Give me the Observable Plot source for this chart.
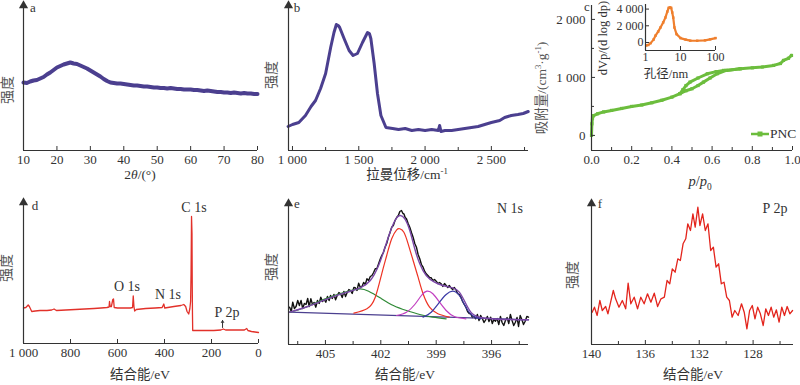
<!DOCTYPE html>
<html><head><meta charset="utf-8">
<script src="https://cdn.jsdelivr.net/npm/d3@7"></script>
<script src="https://cdn.jsdelivr.net/npm/@observablehq/plot@0.6"></script>
<style>
body{margin:0;background:#fff;}
#root{position:relative;width:800px;height:385px;overflow:hidden;font-family:"Liberation Serif","Noto Sans CJK SC",serif;color:#333;}
#root svg{position:absolute;overflow:visible;}
.t{position:absolute;white-space:nowrap;line-height:1;}
.t sup,.t sub{font-size:65%;line-height:0;}
</style></head>
<body><div id="root"></div>
<script>
// ---------- data ----------
// a: XRD
const aTheta = [10,11,12,13,14,15,16,17,18,19,20,21,22,23,24,25,26,27,28,29,30,31,32,33,34,35,36,37,38,39,40,41,42,43,44,45,46,47,48,49,50,51,52,53,54,55,56,57,58,59,60,61,62,63,64,65,66,67,68,69,70,71,72,73,74,75,76,77,78,79,80];
const aInt = [68,67.5,69,70,70.5,72,73.5,76,78,80.5,83,84.5,86,87,88,87,86.5,85,83.5,82,80,78,76,74,71.5,69.5,68,67.5,67,67,66.5,66,65.5,65,65,64.5,64,64,63.5,63,63,62.5,62.5,62,62.5,62,61.5,61.5,61,61,61,60.5,60.5,60,59.5,60,59.5,59,58.5,58.5,58,58,57.5,58,57.5,57,57.5,57,57,56.5,56.5];
// b: Raman
const bShift = [967,1000,1048,1098,1140,1174,1212,1250,1288,1313,1331,1345,1356,1389,1427,1457,1490,1528,1566,1580,1591,1616,1641,1667,1705,1755,1800,1850,1900,1950,2000,2050,2100,2110,2120,2150,2200,2250,2300,2350,2400,2450,2500,2563,2600,2650,2700,2740,2778];
const bInt = [24,26,28,35,44,50,62,77,103,118,126,125,123,112,100,95,97,108,118,117,112,87,57,35,23,22,21,22,20,21,20,21,20,25,19,20,20,21,22,23,24,26,28,30,33,35,36,37,39];
// c: N2 isotherm
const cAdsP = [0.0,0.002,0.005,0.01,0.03,0.06,0.1,0.15,0.2,0.25,0.3,0.35,0.4,0.44,0.47,0.5,0.53,0.557,0.59,0.625,0.67,0.74,0.8,0.85,0.906,0.94,0.955,0.98,0.995];
const cAdsV = [0,200,300,340,373,405,431,465,500,525,563,607,661,720,770,805,860,919,990,1063,1121,1150,1165,1180,1207,1240,1293,1330,1379];
const cDesP = [0.74,0.67,0.657,0.62,0.576,0.53,0.49,0.47,0.455,0.44];
const cDesV = [1150,1121,1121,1100,1063,990,919,860,790,720];
// c inset: pore size distribution
const cPore = [1.05,1.2,1.4,1.7,1.93,2.3,2.68,3.2,3.7,4.2,4.6,5.0,5.4,5.8,6.2,6.7,7.7,10,14,19,30,50,70,100];
const cDV = [-350,-300,-80,350,820,1300,1800,2400,2980,3700,4150,4200,4150,3600,2980,1800,1000,530,350,220,210,260,380,530];
// d: XPS survey
const dBE = [1000,990,980,975,965,950,930,900,880,870,860,820,780,740,700,670,645,636,634,631,626,620,617,614,600,570,545,536,533,530,527,520,480,440,410,403,399,360,330,318,310,304,297,292,289,287,285,283,282,281,280,260,220,190,160,150,140,100,60,50,45,30,15,0];
const dInt = [35.5,36,38.5,37,32,32.5,33,33,33.5,34.5,33,33.5,34,34.5,35,35.5,36,36.5,42,37,37,44,44.5,36,35.5,35.5,35.5,36,47.5,37,32.5,34,35,35.5,36,39.5,35.5,37,38,39,37,32,29.5,35,42,70,127,110,60,30,13,13,13,13,13.5,14.5,13.5,13.5,13.5,15,13,12,11.5,11];
const dPeakNames = ["C 1s","O 1s","N 1s","P 2p"];
const dP2pMark = [153];
// e: N 1s
const eBE = [406.94,406.85,406.77,406.68,406.59,406.5,406.41,406.32,406.23,406.14,406.05,405.96,405.88,405.79,405.7,405.61,405.52,405.43,405.34,405.25,405.16,405.07,404.98,404.89,404.8,404.72,404.63,404.54,404.45,404.36,404.27,404.18,404.09,404.0,403.91,403.82,403.73,403.64,403.55,403.46,403.38,403.29,403.2,403.11,403.02,402.93,402.84,402.75,402.66,402.57,402.48,402.39,402.3,402.21,402.12,402.04,401.95,401.86,401.77,401.68,401.59,401.5,401.41,401.32,401.23,401.14,401.05,400.97,400.88,400.8,400.75,400.68,400.61,400.52,400.43,400.34,400.25,400.16,400.07,399.98,399.89,399.8,399.71,399.62,399.54,399.45,399.36,399.27,399.18,399.09,399.0,398.91,398.82,398.73,398.64,398.55,398.46,398.37,398.29,398.2,398.11,398.02,397.93,397.84,397.75,397.66,397.57,397.48,397.39,397.3,397.21,397.13,397.04,396.95,396.86,396.77,396.68,396.59,396.5,396.41,396.32,396.23,396.14,396.05,395.96,395.88,395.79,395.7,395.61,395.52,395.43,395.34,395.25,395.16,395.07,394.98,394.89,394.8,394.71,394.62,394.54,394.45,394.36,394.27,394.18,394.09,394.0];
const eInt = [37.3,33,42.3,36,38,44,39,44,36,41,40,46,38,45.7,40,42,37.3,44,41,47.3,43,45,42.3,48,44,49,46,50,44.7,49,52,50.7,47,53,48,52,55,54,51,57,56.7,54,61.3,57,58,62,60,65.7,64,68,69,72,75.7,76,80.7,85,89,92,97.3,101,107.3,112,117.3,119,124,127,129,133,134,131,130.7,127,125.7,121,117.3,112,107.3,101,97.3,90,85.7,80,77.3,73,70.7,69,67,66.7,64,65,63.3,61,62,60.7,58,61,59,57,59,56.7,55,57,54.7,51,50,47.3,43,40,37.3,33,31,30.7,27,28,25.7,30,24,29,26,22,24.7,28,23,27.3,21,25,23.3,26,20,28,22,19,24,27,21,30,24,19,22.3,27,18,29,25,20,23.3,28,27.3];
const eEnvBE = [406.94,405.96,404.89,403.82,403.11,402.57,402.12,401.77,401.5,401.23,400.97,400.7,400.43,400.16,399.89,399.54,399.09,398.64,398.11,397.75,397.39,397.04,396.5,395.61,394.0];
const eEnvInt = [32.3,38,45.7,52.3,56.7,64,79,97.3,112.3,124,129,125.7,114,95.7,80.7,69,62.3,59,56.7,52.3,40.7,30.7,26.7,25.3,24.7];
const eBaseBE = [406.94,394.0];
const eBaseInt = [32.3,24.7];
const eRedBE = [403.46,402.75,402.3,401.95,401.68,401.41,401.14,400.97,400.75,400.52,400.25,399.98,399.71,399.36,398.91,398.29];
const eRedInt = [31.3,35.7,47.3,70.7,89,105.7,114.7,115.7,112.3,100.7,84,67.3,50.7,37.3,30.7,27.3];
const eGreenBE = [406.94,406.14,405.25,404.36,403.64,403.11,402.66,402.04,401.32,400.61,399.89,399.18,398.46];
const eGreenInt = [32.3,36.7,44,50,54,55.7,53.3,46.7,39,34,30,27.3,25.7];
const eMagBE = [401.14,400.61,400.16,399.8,399.5,399.18,398.82,398.46,398.02,397.39];
const eMagInt = [29,32.3,40,49,53.3,50.7,42.3,34,28,25.7];
const eBlueBE = [399.71,399.27,398.82,398.46,398.11,397.75,397.39,397.04,396.59];
const eBlueInt = [27.3,32.3,42.3,50,53.3,49,37.3,29,25.7];
// f: P 2p
const fBE = [139.95,139.78,139.58,139.38,139.2,138.95,138.78,138.58,138.38,138.21,137.96,137.71,137.46,137.28,137.08,136.83,136.58,136.34,136.09,135.84,135.59,135.34,135.09,134.84,134.59,134.39,134.19,134.0,133.79,133.59,133.4,133.2,133.0,132.85,132.65,132.47,132.3,132.1,131.95,131.75,131.55,131.35,131.15,130.95,130.75,130.56,130.36,130.16,129.96,129.76,129.56,129.36,129.11,128.86,128.66,128.46,128.26,128.06,127.86,127.66,127.46,127.25,127.06,126.86,126.66,126.47,126.27,126.07,125.87,125.67,125.47,125.27,125.07];
const fInt = [32.3,37.3,29,44,34,38,30.7,42.3,54,45.7,37.3,44,35.7,61.3,40.7,47.3,35.7,47.3,40.7,50.7,42.3,51.3,38,45.7,47.3,64,60.7,75.7,72.3,85.7,84,100.7,105.7,120.7,114,130.7,117.3,137.3,119,130.7,114,120.7,94,97.3,77.3,80.7,60.7,62.3,47.3,44,27.3,34,29,40.7,32.3,15.7,34,39,25.7,37.3,30.7,19,35.7,29,37.3,27.3,34.7,22.3,37.3,29,38,30.7,34];

// ---------- helpers ----------
const root = document.getElementById("root");
const INK = "#333";
const FONT = "Liberation Serif, Noto Sans CJK SC, serif";
const zipXY = (xs, ys) => xs.map((x, i) => ({x, y: ys[i]}));
const fmtK = d => Math.abs(d) >= 1000 ? d3.format(",")(d).replace(/,/g, " ") : String(d);

function txt(html, x, y, o = {}) {
  const d = document.createElement("div");
  d.className = "t";
  d.innerHTML = html;
  d.style.left = x + "px";
  d.style.top = y + "px";
  d.style.fontSize = (o.size || 13) + "px";
  d.style.transform = "translate(-50%,-50%)" + (o.rot ? " rotate(-90deg)" : "");
  if (o.color) d.style.color = o.color;
  root.appendChild(d);
}

function panel(o) {
  const fs = o.fs || 13;
  const tx = {color: INK, fontSize: fs, fontFamily: FONT};
  const axes = [
    Plot.ruleX([o.xd[0]], {stroke: INK, strokeWidth: 1.2}),
    Plot.ruleY([o.yd[0]], {stroke: INK, strokeWidth: 1.2}),
    Plot.axisX(o.xMajor, {...tx, tickSize: -4, tickPadding: o.xPad || 8, tickFormat: o.xFmt || fmtK}),
  ];
  if (o.xMinor) axes.push(Plot.axisX(o.xMinor, {...tx, tickSize: -3, tickFormat: () => ""}));
  if (o.yMajor) axes.push(Plot.axisY(o.yMajor, {...tx, tickSize: -4, tickPadding: o.yPad || 10, tickFormat: o.yFmt || fmtK}));
  if (o.yMinor) axes.push(Plot.axisY(o.yMinor, {...tx, tickSize: -3, tickFormat: () => ""}));
  if (o.arrow !== false) axes.push(Plot.dot([0], {x: () => o.xd[0], y: () => o.yd[1], symbol: "triangle", r: 3.4, fill: INK}));
  const svg = Plot.plot({
    width: o.width, height: o.height,
    marginLeft: o.m[3], marginRight: o.m[1], marginTop: o.m[0], marginBottom: o.m[2],
    x: {type: o.xType || "linear", domain: o.xd, label: null},
    y: {domain: o.yd, label: null, axis: o.yMajor ? undefined : null},
    style: {background: "none", overflow: "visible", color: INK, fontFamily: FONT, fontSize: fs + "px"},
    marks: [...o.marks, ...axes]
  });
  svg.style.left = o.left + "px";
  svg.style.top = o.top + "px";
  root.appendChild(svg);
}

// ---------- panel a ----------
panel({left: 0, top: 0, width: 265, height: 190, m: [5, 8, 40, 23],
  xd: [10, 80], yd: [0, 145], xMajor: [10,20,30,40,50,60,70,80],
  marks: [Plot.line(zipXY(aTheta, aInt), {x: "x", y: "y", stroke: "#4b3f8f", strokeWidth: 4})]});
txt("a", 33, 7);
txt("2<i>θ</i>/(°)", 140, 175, {size: 13.5});
txt("强度", 8, 90, {rot: true, size: 14, color: "#555"});

// ---------- panel b ----------
panel({left: 265, top: 0, width: 270, height: 190, m: [5, 7, 40, 23],
  xd: [970, 2780], yd: [0, 145], xMajor: [1000,1500,2000,2500], xMinor: [1250,1750,2250,2750],
  marks: [Plot.line(zipXY(bShift, bInt), {x: "x", y: "y", stroke: "#4b3f8f", strokeWidth: 3})]});
txt("b", 297, 7);
txt("拉曼位移/cm<sup>-1</sup>", 407, 175, {size: 13.5});
txt("强度", 272, 75, {rot: true, size: 14, color: "#555"});

// ---------- panel c ----------
const GREEN = "#6cbd3d";
panel({left: 530, top: 0, width: 270, height: 190, m: [5, 8, 40, 61],
  xd: [0, 1], yd: [-260, 2240], arrow: false,
  xMajor: [0,0.2,0.4,0.6,0.8,1.0], xMinor: [0.1,0.3,0.5,0.7,0.9], xFmt: d3.format(".1f"),
  yMajor: [0,1000,2000], yMinor: [500,1500],
  marks: [
    Plot.line(zipXY(cAdsP, cAdsV), {x: "x", y: "y", stroke: GREEN, strokeWidth: 3}),
    Plot.line(zipXY(cDesP, cDesV), {x: "x", y: "y", stroke: GREEN, strokeWidth: 3}),
    Plot.dot(zipXY(cAdsP, cAdsV), {x: "x", y: "y", symbol: "square", r: 1.8, fill: GREEN}),
    Plot.dot(zipXY(cDesP, cDesV), {x: "x", y: "y", symbol: "square", r: 1.8, fill: GREEN})
  ]});
txt("c", 587, 6);
txt("<i>p</i>/<i>p</i><sub>0</sub>", 700, 181, {size: 14.5});
txt("吸附量/(cm<sup>3</sup>·g<sup>-1</sup>)", 542, 88, {rot: true, size: 13.5, color: "#555"});
// legend
(function(){
  const d = document.createElement("div");
  d.className = "t";
  d.style.left = "751px"; d.style.top = "126px"; d.style.fontSize = "13.5px";
  d.innerHTML = `<svg width="19" height="14" style="position:static;vertical-align:middle"><line x1="0" x2="18" y1="7" y2="7" stroke="${GREEN}" stroke-width="2.5"/><rect x="6.5" y="4.5" width="5" height="5" fill="${GREEN}"/></svg><span style="vertical-align:middle">PNC</span>`;
  root.appendChild(d);
})();
// inset
panel({left: 600, top: 0, width: 125, height: 70, m: [4, 10, 20, 45], fs: 12,
  xd: [1, 100], xType: "log", yd: [-958, 4550], arrow: false,
  xMajor: [1, 10, 100], xFmt: d => String(d), xPad: 6,
  yMajor: [0, 2000, 4000], yPad: 6,
  marks: [
    Plot.line(zipXY(cPore, cDV), {x: "x", y: "y", stroke: "#ef7f2d", strokeWidth: 2.2}),
    Plot.dot(zipXY(cPore, cDV), {x: "x", y: "y", symbol: "square", r: 1.4, fill: "#ef7f2d"})
  ]});
txt("dVp/(d log dp)", 603, 38, {rot: true, size: 12.5});
txt("孔径/nm", 666, 74, {size: 12.5});

// ---------- panel d ----------
const RED = "#e2312a";
panel({left: 0, top: 190, width: 265, height: 195, m: [12, 7, 42, 23],
  xd: [1000, 0], yd: [0, 141], xMajor: [1000,800,600,400,200,0],
  marks: [
    Plot.line(zipXY(dBE, dInt), {x: "x", y: "y", stroke: RED, strokeWidth: 1.3}),
    Plot.arrow(dP2pMark, {x1: d => d, x2: d => d, y1: 16, y2: 23, stroke: INK, strokeWidth: 1, headLength: 4})
  ]});
txt("d", 35, 205);
txt(dPeakNames[0], 194, 208, {size: 14});
txt(dPeakNames[1], 127, 287, {size: 14});
txt(dPeakNames[2], 168, 295, {size: 14});
txt(dPeakNames[3], 227, 313, {size: 14});
txt("结合能/eV", 140, 375, {size: 13.5});
txt("强度", 7, 268, {rot: true, size: 14, color: "#555"});

// ---------- panel e ----------
panel({left: 265, top: 190, width: 270, height: 195, m: [13, 7, 41, 23],
  xd: [407, 394], yd: [0, 141], xMajor: [405,402,399,396], xMinor: [406.5,403.5,400.5,397.5,394.5],
  marks: [
    Plot.line(zipXY(eBE, eInt), {x: "x", y: "y", stroke: "#111", strokeWidth: 1.4}),
    Plot.line(zipXY(eBaseBE, eBaseInt), {x: "x", y: "y", stroke: "#4b3f8f", strokeWidth: 1.2}),
    Plot.line(zipXY(eGreenBE, eGreenInt), {x: "x", y: "y", stroke: "#2f8a36", strokeWidth: 1.2, curve: "natural"}),
    Plot.line(zipXY(eRedBE, eRedInt), {x: "x", y: "y", stroke: "#ee3324", strokeWidth: 1.2, curve: "natural"}),
    Plot.line(zipXY(eMagBE, eMagInt), {x: "x", y: "y", stroke: "#c23fc0", strokeWidth: 1.2, curve: "natural"}),
    Plot.line(zipXY(eBlueBE, eBlueInt), {x: "x", y: "y", stroke: "#3b3aa6", strokeWidth: 1.2, curve: "natural"}),
    Plot.line(zipXY(eEnvBE, eEnvInt), {x: "x", y: "y", stroke: "#7b47a8", strokeWidth: 1.4, curve: "natural"})
  ]});
txt("e", 297, 203);
txt("N 1s", 510, 209, {size: 14});
txt("结合能/eV", 405, 375, {size: 13.5});
txt("强度", 272, 267, {rot: true, size: 14, color: "#555"});

// ---------- panel f ----------
panel({left: 530, top: 190, width: 270, height: 195, m: [13, 7, 41, 61],
  xd: [140, 125], yd: [0, 141], xMajor: [140,136,132,128], xMinor: [138,134,130,126],
  marks: [Plot.line(zipXY(fBE, fInt), {x: "x", y: "y", stroke: "#e3241c", strokeWidth: 1.3})]});
txt("f", 600, 203);
txt("P 2p", 775, 209, {size: 14});
txt("结合能/eV", 693, 375, {size: 13.5});
txt("强度", 573, 275, {rot: true, size: 14, color: "#555"});
</script>
</body></html>
